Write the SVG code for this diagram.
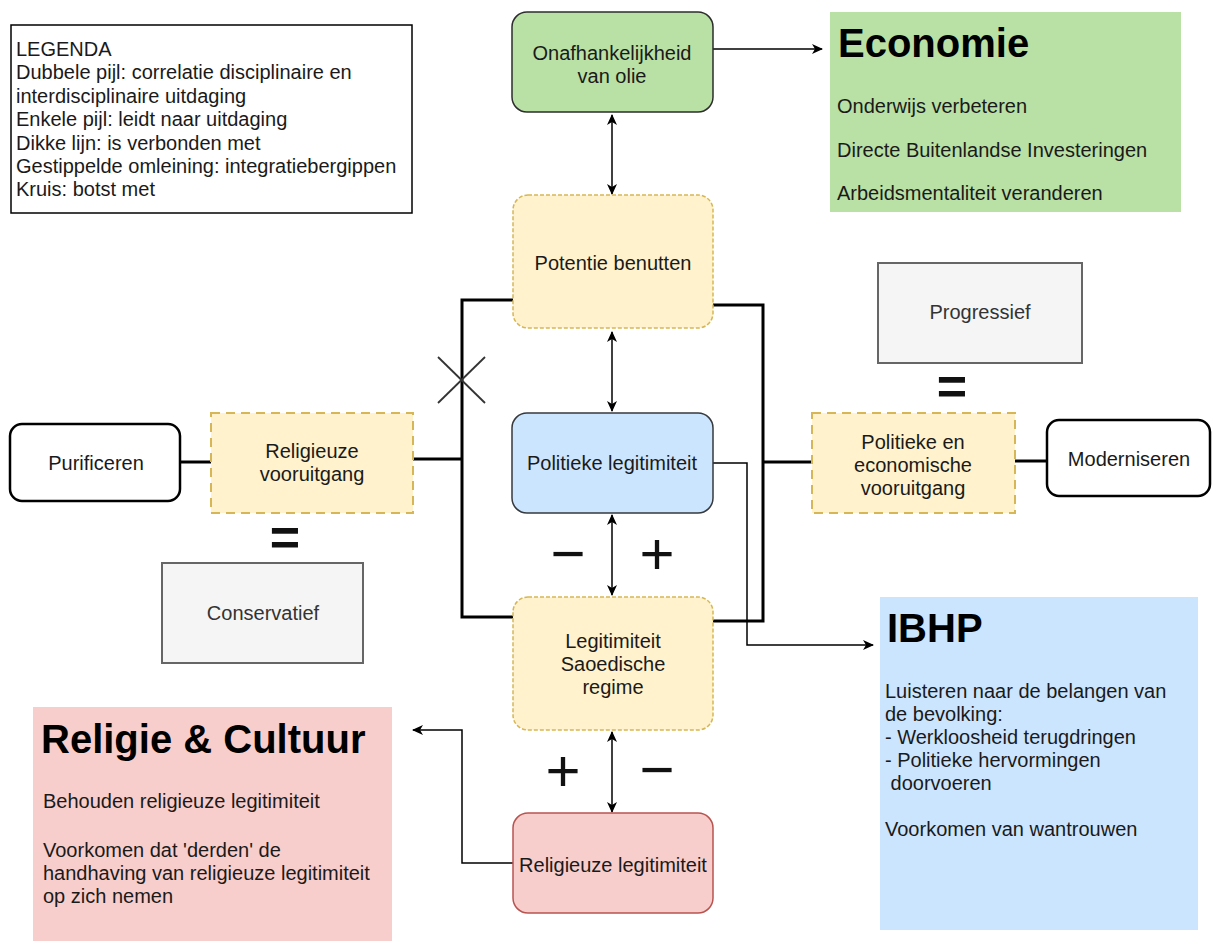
<svg xmlns="http://www.w3.org/2000/svg" width="1212" height="941" viewBox="0 0 1212 941">
<defs>
<marker id="ah" markerUnits="userSpaceOnUse" markerWidth="12" markerHeight="10" refX="10" refY="5" orient="auto-start-reverse" viewBox="0 0 12 10">
<path d="M0,0 L11,5 L0,10 L3,5 z" fill="#000"/>
</marker>
<style>
text{font-family:"Liberation Sans",Arial,sans-serif;font-size:20px;fill:#1a1a1a}
.c{text-anchor:middle}
.h{font-size:40px;font-weight:bold;fill:#000}
.sign{font-size:60px;fill:#111;text-anchor:middle}
.eq{font-size:52px;font-weight:bold;fill:#111;text-anchor:middle}
.thin{fill:none;stroke:#000;stroke-width:1.5}
.thick{fill:none;stroke:#000;stroke-width:3}
.yel-r{fill:#fff2cc;stroke:#d6b656;stroke-width:1.5;stroke-dasharray:4 2}
.yel-s{fill:#fff2cc;stroke:#d6b656;stroke-width:2;stroke-dasharray:9 6}
.gray{fill:#f5f5f5;stroke:#666;stroke-width:2}
.wht{fill:#fff;stroke:#000;stroke-width:2.5}
</style>
</defs>

<g id="legend">
<rect x="11" y="25" width="401" height="188" fill="#fff" stroke="#000" stroke-width="1.5"/>
<text x="16" y="56">LEGENDA</text>
<text x="16" y="79.4">Dubbele pijl: correlatie disciplinaire en</text>
<text x="16" y="102.8">interdisciplinaire uitdaging</text>
<text x="16" y="126.2">Enkele pijl: leidt naar uitdaging</text>
<text x="16" y="149.6">Dikke lijn: is verbonden met</text>
<text x="16" y="173">Gestippelde omleining: integratiebergippen</text>
<text x="16" y="196.4">Kruis: botst met</text>
</g>

<g id="economie">
<rect x="830" y="12" width="351" height="200" fill="#b9e0a5"/>
<text class="h" x="838" y="57">Economie</text>
<text x="837" y="113">Onderwijs verbeteren</text>
<text x="837" y="157">Directe Buitenlandse Investeringen</text>
<text x="837" y="200">Arbeidsmentaliteit veranderen</text>
</g>

<g id="ibhp">
<rect x="880" y="597" width="318" height="333" fill="#cce5ff"/>
<text class="h" x="887" y="642">IBHP</text>
<text x="885" y="698">Luisteren naar de belangen van</text>
<text x="885" y="721">de bevolking:</text>
<text x="885" y="744">- Werkloosheid terugdringen</text>
<text x="885" y="767">- Politieke hervormingen</text>
<text x="885" y="790" xml:space="preserve"> doorvoeren</text>
<text x="885" y="836">Voorkomen van wantrouwen</text>
</g>

<g id="religie-cultuur">
<rect x="33" y="707" width="359" height="234" fill="#f8cecc"/>
<text class="h" x="41" y="753">Religie &amp; Cultuur</text>
<text x="43" y="808">Behouden religieuze legitimiteit</text>
<text x="43" y="857">Voorkomen dat 'derden' de</text>
<text x="43" y="880">handhaving van religieuze legitimiteit</text>
<text x="43" y="903">op zich nemen</text>
</g>

<g id="connectors">
<!-- thin arrows -->
<line class="thin" x1="713" y1="49" x2="822" y2="49" marker-end="url(#ah)"/>
<line class="thin" x1="612" y1="115" x2="612" y2="194" marker-start="url(#ah)" marker-end="url(#ah)"/>
<line class="thin" x1="612" y1="332" x2="612" y2="411" marker-start="url(#ah)" marker-end="url(#ah)"/>
<line class="thin" x1="612" y1="515" x2="612" y2="595" marker-start="url(#ah)" marker-end="url(#ah)"/>
<line class="thin" x1="612" y1="732" x2="612" y2="812" marker-start="url(#ah)" marker-end="url(#ah)"/>
<polyline class="thin" points="713,463 747,463 747,645 873,645" marker-end="url(#ah)"/>
<polyline class="thin" points="513,863 462,863 462,730 413,730" marker-end="url(#ah)"/>
<!-- thick lines -->
<polyline class="thick" points="513,300 462,300 462,617 513,617"/>
<line class="thick" x1="413" y1="459" x2="462" y2="459"/>
<polyline class="thick" points="713,305 763,305 763,621 713,621"/>
<line class="thick" x1="763" y1="462" x2="812" y2="462"/>
<line class="thick" x1="180" y1="462" x2="211" y2="462"/>
<line class="thick" x1="1015" y1="461" x2="1047" y2="461"/>
<!-- cross -->
<line x1="438" y1="357" x2="485" y2="403" stroke="#333" stroke-width="1.8"/>
<line x1="485" y1="357" x2="438" y2="403" stroke="#333" stroke-width="1.8"/>
<!-- signs -->
<text class="sign" x="568" y="574">−</text>
<text class="sign" x="657" y="574">+</text>
<text class="sign" x="563" y="791">+</text>
<text class="sign" x="657" y="790">−</text>
<text class="eq" x="285" y="555">=</text>
<text class="eq" x="952" y="404">=</text>
</g>

<g id="onafhankelijkheid">
<rect x="512" y="12" width="201" height="100" rx="15" fill="#b9e0a5" stroke="#2d2d2d" stroke-width="1.5"/>
<text class="c" x="612" y="60">Onafhankelijkheid</text>
<text class="c" x="612" y="83">van olie</text>
</g>

<g id="potentie">
<rect x="513" y="195" width="200" height="133" rx="15" class="yel-r"/>
<text class="c" x="613" y="270">Potentie benutten</text>
</g>

<g id="politieke-legitimiteit">
<rect x="512" y="413" width="201" height="100" rx="15" fill="#cce5ff" stroke="#36393d" stroke-width="1.5"/>
<text class="c" x="612" y="470">Politieke legitimiteit</text>
</g>

<g id="legitimiteit-regime">
<rect x="513" y="597" width="200" height="133" rx="15" class="yel-r"/>
<text class="c" x="613" y="648">Legitimiteit</text>
<text class="c" x="613" y="671">Saoedische</text>
<text class="c" x="613" y="694">regime</text>
</g>

<g id="religieuze-legitimiteit">
<rect x="513" y="813" width="200" height="100" rx="15" fill="#f8cecc" stroke="#b85450" stroke-width="1.5"/>
<text class="c" x="613" y="872">Religieuze legitimiteit</text>
</g>

<g id="purificeren">
<rect x="10" y="424" width="170" height="77" rx="12" class="wht"/>
<text class="c" x="96" y="470">Purificeren</text>
</g>

<g id="religieuze-vooruitgang">
<rect x="211" y="413" width="202" height="100" class="yel-s"/>
<text class="c" x="312" y="458">Religieuze</text>
<text class="c" x="312" y="481">vooruitgang</text>
</g>

<g id="conservatief">
<rect x="162" y="563" width="201" height="100" class="gray"/>
<text class="c" x="263" y="620" style="fill:#333">Conservatief</text>
</g>

<g id="progressief">
<rect x="878" y="263" width="204" height="100" class="gray"/>
<text class="c" x="980" y="319" style="fill:#333">Progressief</text>
</g>

<g id="politieke-economische">
<rect x="812" y="413" width="203" height="100" class="yel-s"/>
<text class="c" x="913" y="449">Politieke en</text>
<text class="c" x="913" y="472">economische</text>
<text class="c" x="913" y="495">vooruitgang</text>
</g>

<g id="moderniseren">
<rect x="1047" y="420" width="163" height="76" rx="12" class="wht"/>
<text class="c" x="1129" y="466">Moderniseren</text>
</g>
</svg>
